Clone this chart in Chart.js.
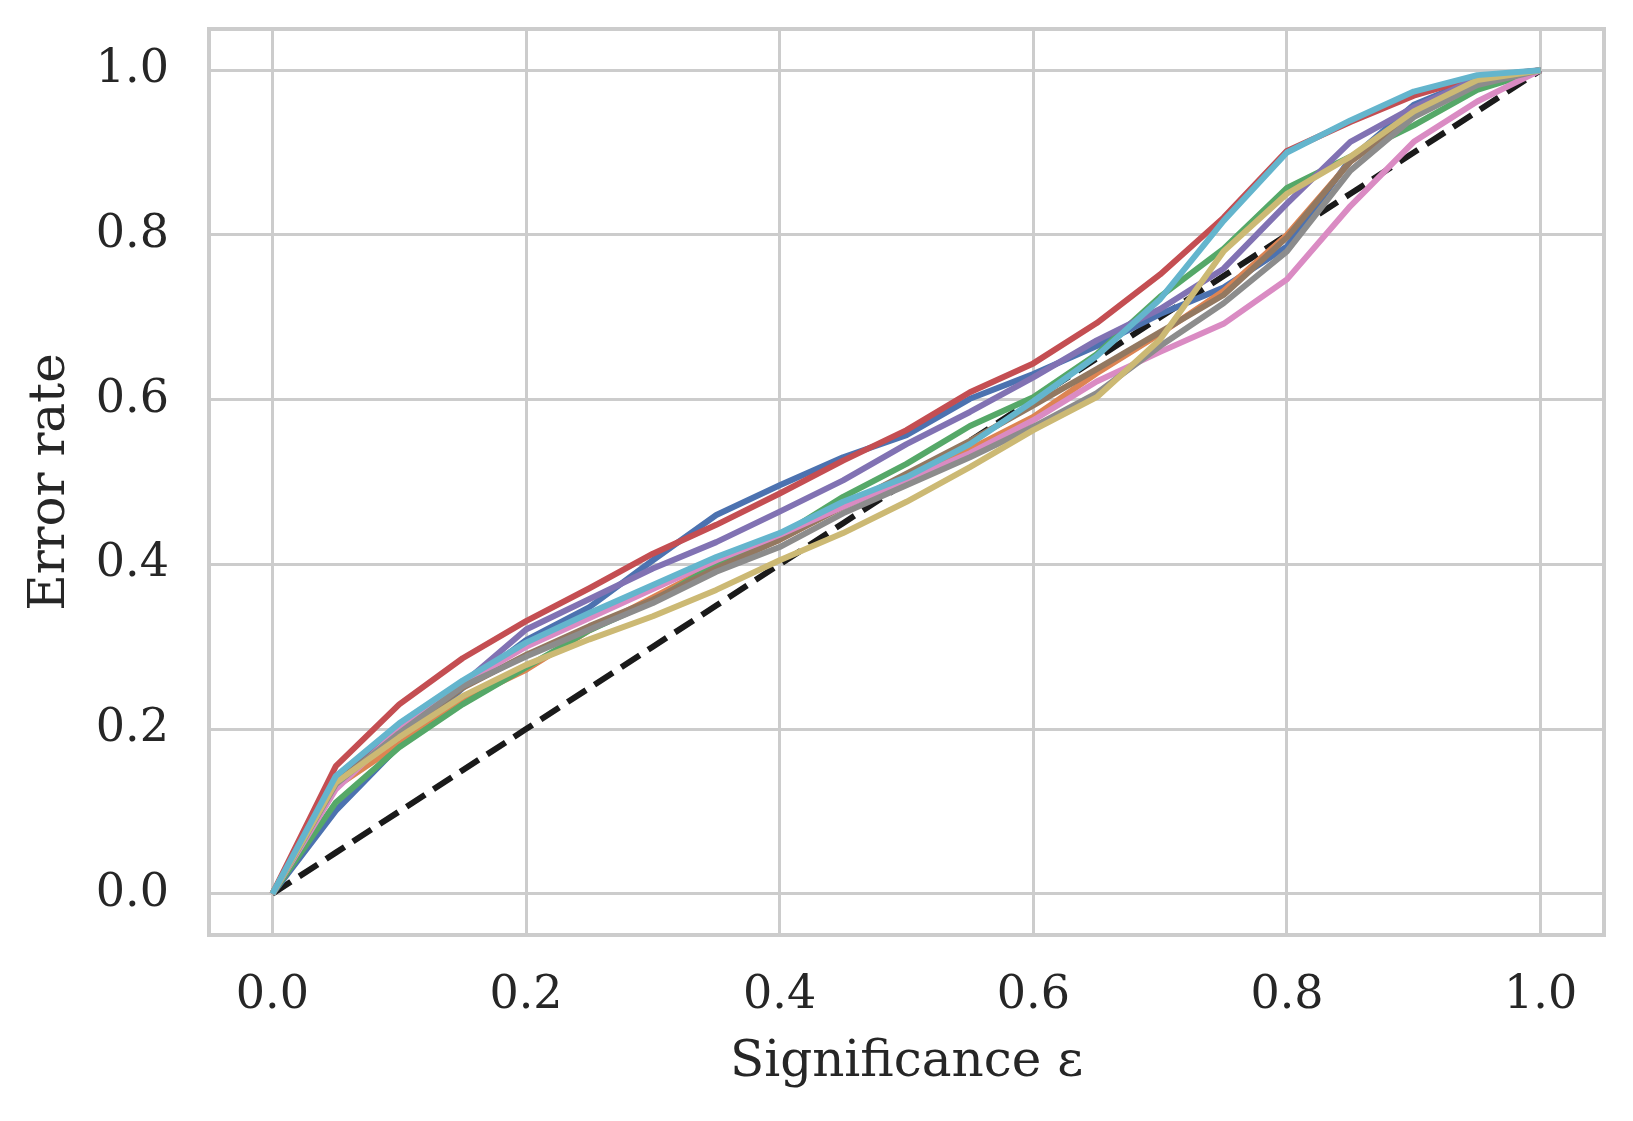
<!DOCTYPE html>
<html>
<head>
<meta charset="utf-8">
<script src="https://cdn.jsdelivr.net/npm/chart.js@4.4.1/dist/chart.umd.min.js"></script>
<style>
  html, body { margin: 0; padding: 0; background: #ffffff; }
  #c { display: block; }
</style>
</head>
<body>
<canvas id="c" width="1633" height="1121" style="width:1633px;height:1121px"></canvas>
<script>
// ---- data ----
const significance = [0, 0.05, 0.1, 0.15, 0.2, 0.25, 0.3, 0.35, 0.4, 0.45, 0.5, 0.55, 0.6, 0.65, 0.7, 0.75, 0.8, 0.85, 0.9, 0.95, 1.0];
const tickValues = [0, 0.2, 0.4, 0.6, 0.8, 1.0];
const tickLabels = ['0.0', '0.2', '0.4', '0.6', '0.8', '1.0'];

const seriesBlue   = [0, 0.101, 0.180, 0.250, 0.308, 0.348, 0.405, 0.460, 0.496, 0.530, 0.557, 0.601, 0.631, 0.665, 0.704, 0.736, 0.786, 0.892, 0.958, 0.990, 1.0];
const seriesOrange = [0, 0.130, 0.182, 0.235, 0.272, 0.320, 0.360, 0.400, 0.430, 0.470, 0.505, 0.540, 0.579, 0.632, 0.680, 0.732, 0.800, 0.889, 0.945, 0.985, 1.0];
const seriesGreen  = [0, 0.111, 0.178, 0.230, 0.275, 0.320, 0.355, 0.400, 0.434, 0.482, 0.522, 0.568, 0.603, 0.655, 0.725, 0.783, 0.857, 0.895, 0.933, 0.976, 1.0];
const seriesRed    = [0, 0.155, 0.230, 0.286, 0.331, 0.371, 0.413, 0.448, 0.486, 0.526, 0.563, 0.609, 0.644, 0.693, 0.752, 0.821, 0.902, 0.937, 0.969, 0.992, 1.0];
const seriesPurple = [0, 0.137, 0.200, 0.255, 0.321, 0.358, 0.395, 0.427, 0.464, 0.502, 0.546, 0.585, 0.627, 0.672, 0.710, 0.759, 0.838, 0.913, 0.955, 0.990, 1.0];
const seriesBrown  = [0, 0.135, 0.195, 0.250, 0.290, 0.325, 0.357, 0.395, 0.430, 0.470, 0.510, 0.550, 0.593, 0.637, 0.682, 0.727, 0.797, 0.889, 0.945, 0.985, 1.0];
const seriesPink   = [0, 0.127, 0.200, 0.255, 0.300, 0.335, 0.370, 0.405, 0.436, 0.470, 0.502, 0.535, 0.575, 0.622, 0.658, 0.692, 0.746, 0.835, 0.913, 0.962, 1.0];
const seriesGray   = [0, 0.133, 0.195, 0.252, 0.288, 0.321, 0.353, 0.391, 0.421, 0.462, 0.496, 0.530, 0.567, 0.608, 0.665, 0.717, 0.780, 0.878, 0.943, 0.982, 1.0];
const seriesOlive  = [0, 0.135, 0.190, 0.240, 0.278, 0.309, 0.337, 0.369, 0.405, 0.438, 0.476, 0.518, 0.563, 0.603, 0.673, 0.780, 0.850, 0.895, 0.950, 0.988, 1.0];
const seriesCyan   = [0, 0.143, 0.207, 0.259, 0.305, 0.341, 0.375, 0.409, 0.438, 0.476, 0.506, 0.546, 0.598, 0.653, 0.722, 0.817, 0.900, 0.939, 0.974, 0.994, 1.0];
const diagonal     = [0, 0.05, 0.1, 0.15, 0.2, 0.25, 0.3, 0.35, 0.4, 0.45, 0.5, 0.55, 0.6, 0.65, 0.7, 0.75, 0.8, 0.85, 0.9, 0.95, 1.0];

const seriesList = [seriesBlue, seriesOrange, seriesGreen, seriesRed, seriesPurple, seriesBrown, seriesPink, seriesGray, seriesOlive, seriesCyan];
const seriesColors = ['#4C72B0', '#DD8452', '#55A868', '#C44E52', '#8172B3', '#937860', '#DA8BC3', '#8C8C8C', '#CCB974', '#64B5CD'];

// ---- build datasets ----
const toPoints = (ys) => significance.map((x, i) => ({ x: x, y: ys[i] }));
const datasets = [];
datasets.push({
  data: toPoints(diagonal),
  borderColor: '#1a1a1a',
  borderWidth: 6,
  borderDash: [22, 10],
  pointRadius: 0,
  fill: false,
  order: 20
});
seriesList.forEach((s, i) => {
  datasets.push({
    data: toPoints(s),
    borderColor: seriesColors[i],
    borderWidth: 6,
    pointRadius: 0,
    fill: false,
    order: 10 - i
  });
});

const FONT = "'DejaVu Serif', 'Liberation Serif', serif";
const TEXT = '#262626';
const GRID = '#cccccc';

const framePlugin = {
  id: 'frame',
  beforeDatasetsDraw(chart) {
    const a = chart.chartArea;
    const ctx = chart.ctx;
    ctx.save();
    ctx.strokeStyle = GRID;
    ctx.lineWidth = 4;
    ctx.strokeRect(a.left, a.top, a.right - a.left, a.bottom - a.top);
    ctx.restore();
  }
};

const fixTicks = (scale) => {
  scale.ticks = tickValues.map(v => ({ value: v }));
};
const zeroPad = (s) => {
  s.paddingTop = 0; s.paddingBottom = 0; s.paddingLeft = 0; s.paddingRight = 0;
};

new Chart(document.getElementById('c'), {
  type: 'line',
  data: { datasets: datasets },
  plugins: [framePlugin],
  options: {
    responsive: false,
    animation: false,
    devicePixelRatio: 1,
    layout: { padding: { top: 29, right: 29, left: 0, bottom: 0 } },
    plugins: { legend: { display: false }, tooltip: { enabled: false } },
    elements: { line: { tension: 0, borderCapStyle: 'butt', borderJoinStyle: 'round' } },
    scales: {
      x: {
        type: 'linear',
        min: -0.05,
        max: 1.05,
        afterBuildTicks: fixTicks,
        afterFit: (s) => { s.height = 186; zeroPad(s); },
        grid: { color: GRID, lineWidth: 3, drawTicks: false },
        border: { display: false },
        ticks: {
          padding: 33,
          color: TEXT,
          font: { family: FONT, size: 46 },
          maxRotation: 0,
          autoSkip: false,
          callback: (v) => tickLabels[tickValues.indexOf(v)] ?? ''
        },
        title: {
          display: true,
          text: 'Significance ε',
          color: TEXT,
          font: { family: FONT, size: 50 },
          padding: { top: 0, bottom: 28 }
        }
      },
      y: {
        type: 'linear',
        min: -0.05,
        max: 1.05,
        afterBuildTicks: fixTicks,
        afterFit: (s) => { s.width = 209; zeroPad(s); },
        grid: { color: GRID, lineWidth: 3, drawTicks: false },
        border: { display: false },
        ticks: {
          padding: 40,
          color: TEXT,
          font: { family: FONT, size: 46 },
          autoSkip: false,
          callback: (v) => tickLabels[tickValues.indexOf(v)] ?? ''
        },
        title: {
          display: true,
          text: 'Error rate',
          color: TEXT,
          font: { family: FONT, size: 50 },
          padding: { top: 21, bottom: 0 }
        }
      }
    }
  }
});
</script>
</body>
</html>
